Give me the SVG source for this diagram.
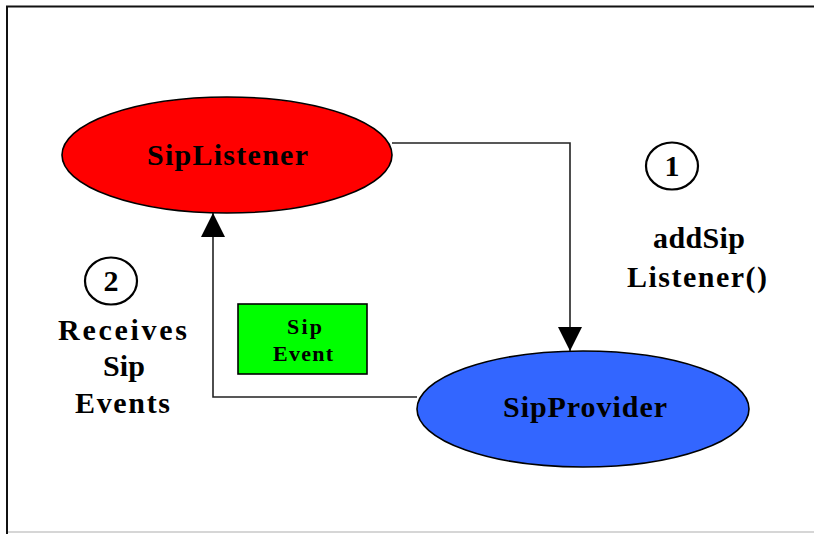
<svg xmlns="http://www.w3.org/2000/svg" width="814" height="534" viewBox="0 0 814 534">
  <defs>
    <marker id="arrowhead" markerUnits="userSpaceOnUse" markerWidth="24" markerHeight="24" viewBox="0 0 22 22" refX="22" refY="11" orient="auto">
      <path d="M0,0 L22,11 L0,22 z" fill="#000"/>
    </marker>
  </defs>
  <style>
    .label { font-family: "Liberation Serif", "Times New Roman", serif; font-weight: bold; fill: #000; }
    .big { font-size: 30px; }
    .small { font-size: 22px; }
    .node-shape { stroke: #000; stroke-width: 1.6; }
    .badge { fill: #fff; stroke: #000; stroke-width: 2.2; }
    .wire { fill: none; stroke: #222; stroke-width: 1.6; marker-end: url(#arrowhead); }
  </style>

  <!-- page background and frame -->
  <rect x="0" y="0" width="814" height="534" fill="#fff"/>
  <path d="M7,534 V6.5 H814" fill="none" stroke="#111" stroke-width="2"/>
  <line x1="8" y1="532" x2="814" y2="532" stroke="#c8c8c8" stroke-width="1.5"/>

  <!-- connectors -->
  <g id="connectors">
    <path class="wire" d="M392,143 H570 V351"/>
    <path class="wire" d="M417,397 H213 V213"/>
  </g>

  <g id="sip-listener">
    <ellipse class="node-shape" cx="227" cy="155" rx="165" ry="58" fill="#ff0000"/>
    <text class="label big" x="147" y="165" textLength="161" lengthAdjust="spacing">SipListener</text>
  </g>

  <g id="sip-provider">
    <ellipse class="node-shape" cx="583" cy="409" rx="166" ry="58" fill="#3366ff"/>
    <text class="label big" x="503" y="417" textLength="164" lengthAdjust="spacing">SipProvider</text>
  </g>

  <g id="sip-event">
    <rect x="238" y="304" width="129" height="70" fill="#00ff00" stroke="#000" stroke-width="1.6"/>
    <text class="label small" x="287" y="334" textLength="35" lengthAdjust="spacing">Sip</text>
    <text class="label small" x="273" y="361" textLength="60" lengthAdjust="spacing">Event</text>
  </g>

  <g id="step-1">
    <ellipse class="badge" cx="672" cy="166" rx="26" ry="23.5"/>
    <text class="label big" x="672" y="176" text-anchor="middle">1</text>
    <text class="label big" x="653" y="248" textLength="92" lengthAdjust="spacing">addSip</text>
    <text class="label big" x="627" y="287" textLength="140" lengthAdjust="spacing">Listener()</text>
  </g>

  <g id="step-2">
    <ellipse class="badge" cx="111" cy="281" rx="26" ry="23.5"/>
    <text class="label big" x="111" y="291" text-anchor="middle">2</text>
    <text class="label big" x="58" y="340" textLength="129" lengthAdjust="spacing">Receives</text>
    <text class="label big" x="103" y="376" textLength="42" lengthAdjust="spacing">Sip</text>
    <text class="label big" x="75" y="413" textLength="95" lengthAdjust="spacing">Events</text>
  </g>
</svg>
